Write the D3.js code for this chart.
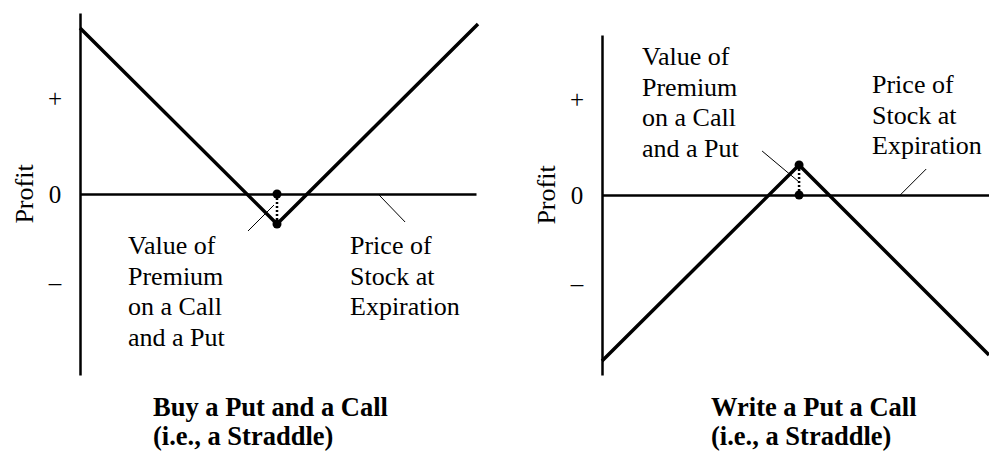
<!DOCTYPE html>
<html>
<head>
<meta charset="utf-8">
<script src="https://cdn.jsdelivr.net/npm/d3@7"></script>
<style>
  body { margin: 0; background: #fff; }
</style>
</head>
<body>
<div id="chart"></div>
<script>
// payoff of the straddle, stock price vs profit (arbitrary units)
const buyPrices = [0, 49.5, 100];
const buyProfits = [41.5, -7.5, 42.5];
const writePrices = [0, 49.5, 97.2];
const writeProfits = [-41.5, 7.5, -40];

const strike = 49.5;
const premium = 7.5;

const tickValues = [24, 0, -22];
const tickLabels = ["+", "0", "\u2013"];

const premiumLines = ["Value of", "Premium", "on a Call", "and a Put"];
const priceLines = ["Price of", "Stock at", "Expiration"];
const buyTitle = ["Buy a Put and a Call", "(i.e., a Straddle)"];
const writeTitle = ["Write a Put a Call", "(i.e., a Straddle)"];

const width = 989, height = 451;
const serif = "'Liberation Serif', 'DejaVu Serif', serif";

const svg = d3.select("#chart")
  .append("svg")
    .attr("width", width)
    .attr("height", height)
    .style("font-family", serif);

svg.append("rect").attr("width", width).attr("height", height).attr("fill", "#fff");

function drawPanel(cfg) {
  const g = svg.append("g");

  const x = d3.scaleLinear().domain(cfg.xDomain).range(cfg.xRange);
  const y = d3.scaleLinear().domain(cfg.yDomain).range(cfg.yRange);

  // vertical axis with +, 0, - labels
  const yAxis = g.append("g")
    .attr("transform", `translate(${cfg.xRange[0]},0)`)
    .call(d3.axisLeft(y)
      .tickValues(tickValues)
      .tickFormat((d, i) => tickLabels[i])
      .tickSize(0));
  yAxis.attr("font-family", null).attr("font-size", null);
  yAxis.select(".domain").attr("stroke", "#000").attr("stroke-width", 2.5);
  yAxis.selectAll("text")
    .attr("fill", "#000")
    .style("font-family", serif)
    .style("font-size", "25px")
    .attr("text-anchor", "middle")
    .attr("x", -25)
    .attr("dy", "0.33em");

  // zero line (stock price at expiration)
  const xZero = x.copy().range([cfg.xRange[0], cfg.zeroEnd]);
  const xAxis = g.append("g")
    .attr("transform", `translate(0,${y(0)})`)
    .call(d3.axisBottom(xZero).ticks(0).tickSizeOuter(0));
  xAxis.selectAll(".tick").remove();
  xAxis.select(".domain").attr("stroke", "#000").attr("stroke-width", 2.5);

  g.append("text")
    .attr("transform", `translate(${cfg.profitX},${y(0)}) rotate(-90)`)
    .attr("text-anchor", "middle")
    .attr("dy", "0.35em")
    .attr("fill", "#000")
    .style("font-family", serif)
    .style("font-size", "26px")
    .text("Profit");

  const pts = cfg.prices.map((p, i) => ({price: p, profit: cfg.profits[i]}));
  const line = d3.line().x(d => x(d.price)).y(d => y(d.profit));

  g.append("path")
    .datum(pts)
    .attr("fill", "none")
    .attr("stroke", "#000")
    .attr("stroke-width", 3.5)
    .attr("stroke-linejoin", "miter")
    .attr("d", line);

  // premium marker: dotted line between zero and vertex
  const vx = x(strike), vy = y(cfg.vertexProfit);
  g.append("line")
    .attr("x1", vx).attr("x2", vx)
    .attr("y1", y(0)).attr("y2", vy)
    .attr("stroke", "#000")
    .attr("stroke-width", 2.5)
    .attr("stroke-dasharray", "2,2");
  g.selectAll(".dot")
    .data([0, cfg.vertexProfit])
    .enter().append("circle")
      .attr("cx", vx)
      .attr("cy", d => y(d))
      .attr("r", 4.5)
      .attr("fill", "#000");

  // leader lines
  g.append("line")
    .attr("x1", vx + cfg.premLeader[0]).attr("y1", vy + cfg.premLeader[1])
    .attr("x2", vx + cfg.premLeader[2]).attr("y2", vy + cfg.premLeader[3])
    .attr("stroke", "#000").attr("stroke-width", 1);
  const px = x(74.9), py = y(0);
  g.append("line")
    .attr("x1", px).attr("y1", py)
    .attr("x2", px + cfg.priceLeader[0]).attr("y2", py + cfg.priceLeader[1])
    .attr("stroke", "#000").attr("stroke-width", 1);

  function block(lines, lx, ly, opts) {
    const t = g.append("text")
      .attr("x", lx).attr("y", ly)
      .attr("fill", "#000")
      .style("font-family", serif)
      .style("font-size", opts.size + "px")
      .style("font-weight", opts.bold ? "bold" : "normal");
    lines.forEach((s, i) => {
      t.append("tspan").attr("x", lx).attr("y", ly + i * opts.step).text(s);
    });
  }

  block(premiumLines, cfg.premText[0], cfg.premText[1], {size: 26, step: 30.5});
  block(priceLines, cfg.priceText[0], cfg.priceText[1], {size: 26, step: 30.5});
  block(cfg.title, cfg.titlePos[0], cfg.titlePos[1], {size: 26.5, step: 28.5, bold: true});
}

drawPanel({
  prices: buyPrices, profits: buyProfits,
  vertexProfit: -premium,
  xDomain: [0, 100], xRange: [80, 478], zeroEnd: 476,
  yDomain: [-45.25, 45.25], yRange: [375, 13],
  profitX: 24,
  premLeader: [-29, 7, -3, -19],
  priceLeader: [27, 28],
  premText: [128, 254],
  priceText: [350, 254],
  title: buyTitle, titlePos: [153, 416]
});

drawPanel({
  prices: writePrices, profits: writeProfits,
  vertexProfit: premium,
  xDomain: [0, 97.2], xRange: [602, 989], zeroEnd: 989,
  yDomain: [-45, 40], yRange: [375, 35],
  profitX: 546,
  premLeader: [-37, -14, 0, 17],
  priceLeader: [26, -26],
  premText: [642, 65],
  priceText: [872, 93],
  title: writeTitle, titlePos: [711, 416]
});
</script>
</body>
</html>
